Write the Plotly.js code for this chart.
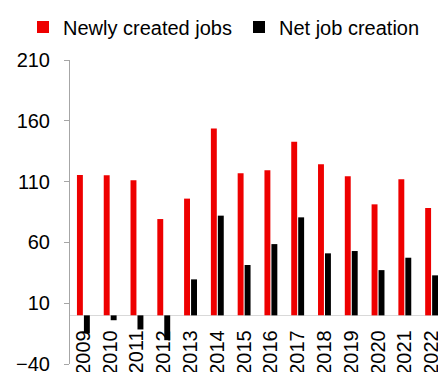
<!DOCTYPE html>
<html>
<head>
<meta charset="utf-8">
<script src="https://cdn.plot.ly/plotly-3.0.1.min.js"></script>
<style>
html,body{margin:0;padding:0;overflow:hidden;background:#fff;}
#chart{width:480px;height:372px;}
</style>
</head>
<body>
<div id="chart"></div>
<script>
const years = ["2009","2010","2011","2012","2013","2014","2015","2016","2017","2018","2019","2020","2021","2022"];
const newlyCreated = [115.5,115.2,111.1,79.2,96,153.6,116.9,119.4,142.7,124.3,114.4,91.3,111.9,88.3];
const netCreation = [-14.9,-4,-11.6,-20.4,29.6,82,41.4,58.6,80.6,51,52.9,37.2,47.4,32.9];
const yTicks = [-40,10,60,110,160,210];

const font = {family: "Liberation Sans, Arial, sans-serif", size: 20, color: "#000"};

const data = [
  {type: "bar", name: "Newly created jobs", x: years, y: newlyCreated, marker: {color: "#EE0000"}},
  {type: "bar", name: "Net job creation", x: years, y: netCreation, marker: {color: "#000000"}}
];

const layout = {
  width: 480, height: 372,
  margin: {l: 70, r: 35, t: 60, b: 8},
  font: font,
  paper_bgcolor: "#fff", plot_bgcolor: "#fff",
  barmode: "group", bargap: 0.48, bargroupgap: 0.15,
  showlegend: true,
  legend: {orientation: "h", x: -47/375, xanchor: "left",
           y: 1 + 33/304, yanchor: "middle",
           font: font, itemwidth: 30, entrywidth: 171, traceorder: "normal",
           bgcolor: "rgba(0,0,0,0)"},
  xaxis: {type: "category", anchor: "free", position: 0.16, showline: false,
          showgrid: false, tickangle: -90, ticks: "", tickfont: font,
          ticklabelstandoff: 10, ticklabeloverflow: "allow", fixedrange: true},
  yaxis: {range: [-40, 210], tickvals: yTicks, showgrid: false, zeroline: true,
          zerolinecolor: "#d9d9d9", zerolinewidth: 1, showline: true, linecolor: "#a6a6a6",
          linewidth: 1, ticks: "outside", ticklen: 5, tickcolor: "#a6a6a6",
          ticklabelstandoff: 10, ticklabeloverflow: "allow", tickfont: font, fixedrange: true}
};

Plotly.newPlot("chart", data, layout, {displayModeBar: false, staticPlot: true});
</script>
</body>
</html>
